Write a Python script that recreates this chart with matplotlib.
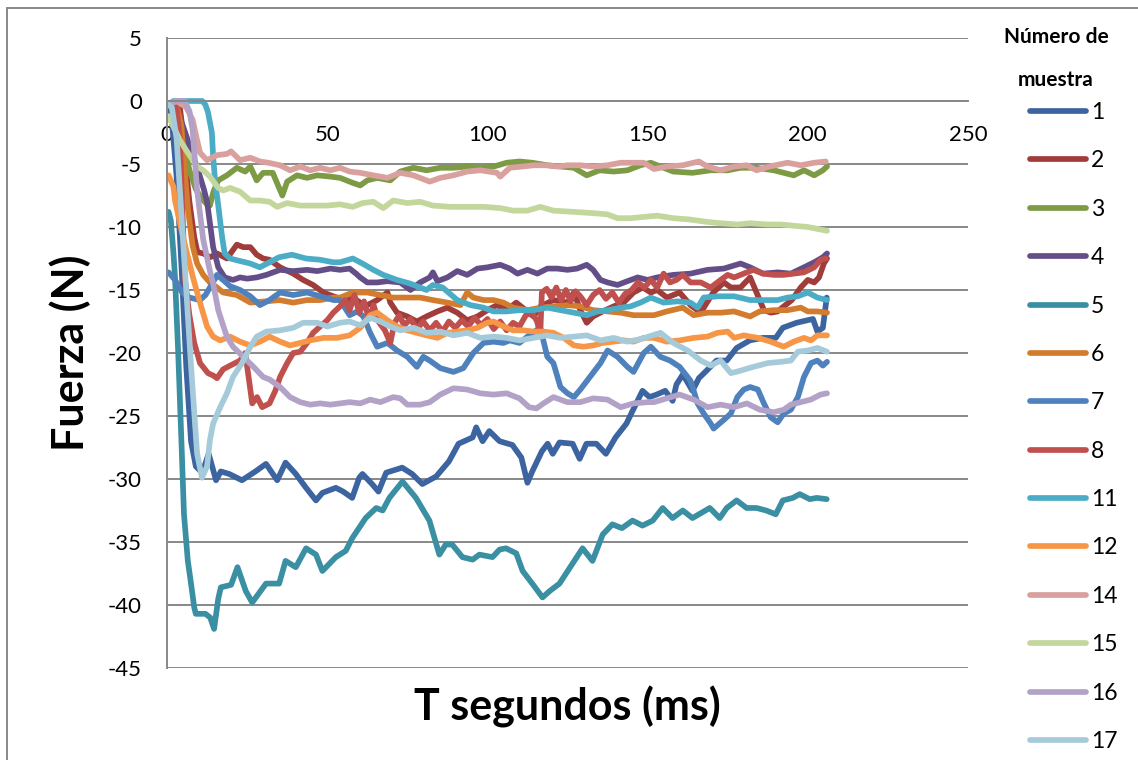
import matplotlib
matplotlib.use('Agg')
import matplotlib.pyplot as plt
from matplotlib.patches import Rectangle

plt.rcParams['font.family'] = ['Lato', 'DejaVu Sans']
plt.rcParams['axes.unicode_minus'] = False

# series: time (ms) and force (N)
t1 = [0.5, 1.5, 3, 4.5, 6, 7.5, 9, 11, 13, 15.3, 16.8, 19.4, 23.4, 27.6, 30.9, 34.4, 37, 40.2, 43.4, 46.5,
      48.5, 52.7, 55, 57.8, 60, 61, 64, 66, 68.4, 73.4, 76.5, 79.7, 84, 88, 91, 95.4, 96.5, 98.5, 100.6, 103.8,
      107.8, 110.6, 112.5, 114, 117, 118.8, 120.4, 122.5, 126.6, 128.8, 130.9, 134, 137, 140, 143.4, 145.3,
      148.4, 150.6, 152.8, 155.5, 157.8, 159, 161, 164, 166, 168.4, 171.5, 174.7, 177.8, 181.9, 186, 190,
      192.2, 196.5, 201.6, 203, 204.7, 205.9]
f1 = [-0.5, -1.5, -6, -13, -21, -27, -29, -29.5, -28, -30.1, -29.4, -29.6, -30.1, -29.4, -28.8, -30.1, -28.7,
      -29.6, -30.7, -31.7, -31.1, -30.7, -31.0, -31.5, -29.9, -29.6, -30.4, -31, -29.5, -29.1, -29.6, -30.4,
      -29.8, -28.6, -27.2, -26.7, -25.9, -27, -26.2, -27, -27.3, -28.3, -30.3, -29.4, -27.8, -27.2, -28, -27.1,
      -27.2, -28.4, -27.2, -27.2, -28, -26.7, -25.6, -24.6, -23, -23.5, -23.3, -23.0, -23.8, -22.5, -21.7, -23,
      -22, -21.4, -20.6, -20.6, -19.6, -19, -18.8, -18.8, -18, -17.6, -17.3, -18.3, -18.0, -15.6]

t2 = [0.5, 4, 5, 6, 7, 8.5, 9.5, 11.3, 13.5, 15.6, 18.7, 21.8, 23.8, 26, 28, 30, 32, 35.3, 39.4, 42.5, 45.6,
      48.8, 53, 56.3, 58, 60.3, 62.5, 65.6, 68.8, 69.7, 71.8, 75, 78, 81, 84.4, 87.5, 90.6, 93.7, 96.9, 100,
      103, 106, 109, 112.5, 114.4, 116.6, 120.6, 125, 127, 129, 131, 133, 136, 139.4, 142.5, 145.6, 148.5,
      151, 153, 156, 160, 163.4, 166.6, 168.5, 170.5, 173.8, 176, 179, 182, 184, 186.3, 188.5, 190.6, 192.5,
      195, 197.8, 200, 202, 203.5, 205, 206]
f2 = [-0.3, -0.5, -2.5, -5.5, -8, -10.8, -12, -12.1, -12.4, -12.1, -12.5, -11.4, -11.6, -11.6, -12.2, -12.5,
      -12.6, -13.2, -13.7, -14.2, -14.6, -15.2, -15.6, -15.8, -15.6, -16.0, -16.2, -15.8, -15.2, -16, -16.8,
      -17.1, -17.5, -17.1, -16.7, -16.4, -16.8, -17.4, -17.1, -16.6, -16.2, -16.6, -16, -16.7, -17.1, -16.3,
      -15.8, -16, -15.2, -16.6, -17.6, -17.1, -16.7, -16.3, -16, -15.2, -14.8, -15.2, -15.0, -15.6, -15.2,
      -16.2, -16.8, -16.0, -15.2, -14.4, -14.8, -14.8, -14, -15.2, -16.6, -16.8, -16.7, -16.3, -15.8, -14.8,
      -14.2, -14.4, -14, -12.9, -12.5]

t3 = [0.5, 3, 5, 7, 9, 11, 12.5, 13.4, 14.5, 16, 18.7, 21.8, 24.4, 26, 28, 30, 33, 36, 37.5, 40.6, 43.7,
      46.9, 51, 54, 58, 60.3, 62.5, 65.6, 69.7, 72.8, 76.9, 81, 85.3, 89.4, 93.7, 97.8, 102, 106, 110, 114,
      118.7, 122.8, 127, 131, 135, 139.4, 143.7, 147.8, 151, 154, 158, 164, 169.7, 175, 179, 184, 189.4,
      192.5, 195.6, 198.8, 202, 204.7, 206]
f3 = [-0.3, -1, -3, -5.5, -7, -7.8, -8.2, -8.3, -7.2, -6.3, -5.9, -5.3, -5.6, -5.2, -6.3, -5.7, -5.7, -7.5,
      -6.4, -5.9, -6.1, -5.9, -6, -6.1, -6.5, -6.7, -6.3, -6.1, -6.3, -5.6, -5.3, -5.5, -5.3, -5.3, -5.2, -5.3,
      -5.2, -4.9, -4.8, -4.9, -5.1, -5.2, -5.3, -5.9, -5.5, -5.6, -5.5, -5.1, -4.9, -5.2, -5.6, -5.7, -5.5,
      -5.5, -5.3, -5.3, -5.5, -5.7, -5.9, -5.5, -5.9, -5.5, -5.2]

t4 = [0.5, 3, 5, 7, 9, 10.3, 11.5, 12.5, 13.4, 14.4, 16, 18, 20.6, 22.8, 25, 28, 31, 35.3, 39.4, 43.7, 46.9,
      51, 54, 57, 59, 60.3, 62.5, 65.6, 68.8, 72.8, 76, 79, 82, 83, 84.4, 87.5, 90.6, 93.7, 96.9, 100, 104,
      107, 109.4, 112.5, 115.6, 118.7, 121.8, 125, 128, 131, 133, 135.3, 137.5, 140.6, 143.7, 146.9, 150,
      153, 158, 163.4, 168.7, 173.8, 179, 182, 186, 190.6, 194.7, 198.8, 202, 204.7, 206]
f4 = [-0.3, -0.7, -2, -3.5, -5, -6, -7, -8, -9.7, -11.6, -13.2, -14, -14.2, -14, -14.1, -14, -13.8, -13.4,
      -13.5, -13.4, -13.5, -13.3, -13.4, -13.3, -13.7, -14, -14.4, -14.4, -14.3, -14.4, -15, -14.4, -14,
      -13.6, -14.3, -14, -13.5, -13.8, -13.3, -13.2, -13, -13.3, -13.7, -13.4, -13.7, -13.3, -13.3, -13.4,
      -13.3, -13, -13.4, -14.2, -14.4, -14.6, -14.3, -14, -14.2, -14.0, -13.8, -13.7, -13.4, -13.3, -12.9,
      -13.2, -13.7, -13.6, -13.7, -13.2, -12.8, -12.4, -12.1]

t5 = [0.5, 1.2, 2, 2.5, 3.5, 4.5, 5.3, 6.5, 7.5, 8.5, 9, 12, 13.5, 14.7, 16, 16.8, 20, 22, 24.6, 26.6, 30.9,
      35, 37, 40.2, 43.4, 46.5, 48.5, 52.7, 55.8, 57.8, 62, 65.3, 67.3, 69.4, 73.5, 77.7, 81.9, 85, 87, 89,
      92.2, 95.4, 97.5, 101.6, 103.8, 105.8, 109, 111, 114, 117.2, 119.4, 122.5, 126.6, 129.7, 132.8, 136,
      139, 142, 145.3, 148.4, 151.6, 154.7, 157.8, 161, 164, 169.4, 172.5, 174.7, 177.8, 180.9, 184, 187,
      190, 192.2, 195.3, 197.5, 200.6, 202.8, 205.9]
f5 = [-8.8, -9.5, -12, -14, -20, -27, -32.8, -36.5, -38.3, -40.2, -40.7, -40.7, -41, -41.9, -39.5, -38.6,
      -38.4, -37, -38.9, -39.8, -38.3, -38.3, -36.5, -37, -35.5, -36, -37.3, -36.2, -35.7, -34.7, -33.1,
      -32.3, -32.5, -31.5, -30.2, -31.5, -33.3, -36, -35.2, -35.2, -36.2, -36.4, -36, -36.2, -35.6, -35.5,
      -35.9, -37.3, -38.3, -39.4, -38.9, -38.3, -36.7, -35.5, -36.5, -34.4, -33.6, -33.9, -33.3, -33.7,
      -33.3, -32.3, -33.1, -32.5, -33.1, -32.3, -33.1, -32.3, -31.7, -32.3, -32.3, -32.5, -32.8, -31.7,
      -31.5, -31.2, -31.6, -31.5, -31.6]

t6 = [0.5, 3, 4.5, 5.5, 6.5, 8, 9.4, 11.3, 13.4, 15.6, 17.5, 21.8, 26, 31, 35, 39.4, 43.7, 47.8, 52, 54, 58,
      62.5, 66.6, 70.6, 75, 79, 83, 87.5, 91.6, 93.7, 95.6, 98.8, 101.9, 105, 108, 112.5, 116.6, 120.6, 125,
      129, 133, 137.5, 141.6, 145.6, 150, 152, 156, 161, 164.4, 168.7, 172.8, 177, 182, 185, 189.4, 193.7,
      197.8, 200, 203, 206]
f6 = [-0.3, -0.3, -2, -5.5, -8.5, -11.5, -12.9, -13.8, -14.4, -14.8, -15.2, -15.4, -16, -15.9, -15.8, -16,
      -15.8, -15.8, -15.6, -15.6, -15.2, -15.2, -15.4, -15.6, -15.6, -15.6, -15.8, -16, -16.2, -15.2, -15.6,
      -15.8, -15.8, -16, -16.4, -16.6, -16.4, -16.3, -16.2, -16.3, -16.6, -16.7, -16.8, -17, -17, -17, -16.7,
      -16.4, -17, -16.8, -16.8, -16.7, -17.1, -16.7, -16.6, -16.6, -16.4, -16.7, -16.7, -16.8]

t7 = [0.5, 2.5, 4.7, 7, 10.3, 12, 13.4, 15, 15.6, 17.5, 19.7, 22.8, 26, 29, 32, 35.3, 39.4, 43.7, 47.8, 52,
      54, 57, 59.4, 61.3, 63.4, 65.6, 68.8, 71.8, 75, 78, 80, 82, 85.3, 89.4, 92.5, 95.6, 98.8, 101.9, 105,
      107, 110, 113, 115.3, 116.5, 118.7, 120.6, 122.8, 125, 127, 129, 132, 135.3, 137.5, 140.6, 143.7,
      145.6, 148.8, 151, 154, 157, 160, 163.4, 165.6, 167.5, 169.7, 170.6, 173.8, 176, 178, 180, 182, 184.4,
      186.3, 188.4, 190.6, 192.5, 194.7, 196.9, 198.8, 201, 203, 204.7, 206]
f7 = [-13.6, -14.2, -15.2, -15.6, -15.8, -15.4, -14.8, -14.1, -13.8, -14.2, -14.7, -15, -15.5, -16.2, -15.8,
      -15.2, -15.4, -15.2, -15.5, -15.8, -15.8, -17, -16.7, -17.1, -18.4, -19.5, -19.2, -19.8, -20.3, -21.1,
      -20.3, -20.6, -21.2, -21.5, -21.2, -20, -19.2, -19.1, -19.2, -19, -19.2, -18.6, -18.2, -18.0, -20.3,
      -20.8, -22.7, -23.2, -23.5, -22.9, -21.9, -20.8, -19.8, -20.3, -21.1, -21.5, -20, -19.5, -20.3, -20.6,
      -21.1, -22.2, -24, -24.8, -25.6, -26, -25.3, -24.8, -23.5, -22.9, -22.7, -22.9, -24, -25.1, -25.5,
      -24.8, -24.5, -23.5, -21.9, -20.8, -20.6, -21, -20.7]

t8 = [0.5, 3, 4, 5, 5.6, 7, 8.5, 10.3, 12.8, 14.5, 15.6, 17.5, 19.7, 22.8, 24.4, 25.3, 26.6, 28.1, 29.7, 32,
      33.8, 35.3, 37.5, 39.4, 41.6, 43.7, 45.6, 47.8, 50, 51.9, 54, 55.6, 57, 58.5, 60, 61.5, 63, 64.5, 66,
      68, 69.7, 71, 72.5, 74, 76, 78, 80, 82, 84, 86, 88, 90, 92, 94, 96, 98, 100, 102, 104, 106, 108, 110,
      112, 114, 115.5, 116.5, 117, 118.5, 120, 121.5, 123, 124.5, 126, 127.5, 129, 131, 133, 135, 137, 139,
      141, 143, 145, 147, 149, 151, 153, 155, 157, 159, 161, 163.4, 166.6, 169.7, 172.8, 175, 177, 180, 183,
      186, 189.4, 192.5, 195.6, 198.8, 202, 204, 205.6]
f8 = [-0.3, -0.5, -3, -10, -14.2, -17, -19.2, -20.8, -21.6, -21.8, -22, -21.3, -21, -20.6, -20, -21.6, -24,
      -23.5, -24.3, -24, -23, -21.9, -20.8, -20, -19.9, -19.2, -18.4, -17.9, -17.4, -16.8, -16.3, -15.8,
      -16.6, -15.4, -16.8, -15.9, -17.3, -16.2, -17.5, -18.2, -19.2, -17.6, -17.0, -17.8, -17.3, -18.1,
      -17.5, -18.2, -17.6, -18.3, -17.5, -18.0, -17.4, -17.9, -17.2, -17.8, -17.3, -18.1, -17.5, -18.2,
      -17.6, -17.9, -17.0, -16.8, -17.5, -18.5, -15.2, -14.9, -15.6, -14.8, -15.8, -15.0, -15.9, -15.1,
      -15.5, -16.2, -15.4, -15.0, -15.7, -15.2, -16.0, -15.3, -15.0, -14.4, -14.8, -14.2, -14.8, -13.7,
      -14.4, -14.2, -13.8, -14.4, -14.4, -14.8, -14.2, -13.8, -14, -13.7, -13.4, -13.7, -13.8, -13.8, -13.7,
      -13.6, -13.2, -12.6, -12.5]

t11 = [0.5, 2, 5, 8, 11, 12, 12.8, 14, 14.4, 15, 16, 17.2, 18, 19.7, 22.8, 26, 29, 32, 35, 39, 43.4, 47.8,
       51.9, 54, 58, 61, 64.4, 67.5, 71.8, 76, 79, 81, 83, 86, 90.6, 94.7, 98.8, 101.9, 106, 110, 114.5,
       118.7, 122.8, 127, 131, 134.4, 137.5, 141.6, 144.7, 147.8, 151, 155, 159.4, 163.4, 165.6, 167.5,
       171.9, 177, 182, 186, 190.6, 193.7, 196.9, 200, 203, 206]
f11 = [-0.3, 0, 0, 0, 0, -0.3, -0.9, -2.5, -4.4, -6.3, -8.3, -10.8, -12.1, -12.5, -12.7, -12.9, -13.2,
       -12.8, -12.4, -12.2, -12.5, -12.6, -12.8, -12.8, -12.5, -12.9, -13.4, -13.8, -14.2, -14.5, -14.8, -15,
       -14.6, -14.8, -15.8, -16.2, -16.4, -16.7, -16.7, -16.6, -16.6, -16.4, -16.6, -16.8, -17, -16.7,
       -16.6, -16.4, -16.3, -16, -15.6, -16, -15.9, -16, -16.4, -15.6, -15.5, -15.5, -15.8, -15.8, -15.8,
       -15.6, -15.5, -15.2, -15.6, -15.8]

t12 = [0.5, 2, 2.5, 5, 8.1, 10.3, 12.5, 14.4, 16.6, 19.7, 22.8, 26, 29, 32, 35.3, 38.4, 41.6, 44.7, 48.8,
       53, 57, 60.3, 63.4, 65.6, 68.8, 71.8, 75, 78, 81, 84.4, 87.5, 90.6, 93.7, 96.9, 100, 101.9, 105, 108,
       111.3, 114.4, 117.5, 120.6, 123.8, 127, 130, 133, 136, 139.4, 142.5, 145.6, 148.8, 152, 156, 160,
       164.4, 168.7, 171.8, 175, 177, 180, 184.4, 188.4, 192.5, 195.6, 198.8, 201, 203, 206]
f12 = [-5.9, -6.8, -7.9, -10.8, -14, -16, -17.9, -18.7, -19, -18.7, -19.1, -19.4, -19.1, -18.7, -19.1,
       -19.4, -19.2, -19, -18.8, -18.8, -18.6, -18.0, -17, -16.8, -17.4, -17.9, -18.2, -18.4, -18.6, -18.8,
       -18.4, -18.3, -18.2, -18, -17.6, -17.5, -17.9, -18.2, -18.2, -18.3, -18.3, -18.4, -18.8, -19.4, -19.5,
       -19.4, -19.2, -19.1, -19, -19.1, -18.8, -18.8, -19.1, -19, -18.8, -18.7, -18.4, -18.3, -18.8, -18.6,
       -18.8, -19.1, -19.5, -19.1, -18.8, -19, -18.6, -18.6]

t14 = [0.5, 3, 6, 8, 9.3, 10.3, 12.5, 15.6, 18.7, 20, 22.8, 26, 29, 31.6, 35.3, 38.4, 41.6, 44.7, 47.8, 51,
       54, 57, 60.3, 64.4, 68.8, 72.8, 76.9, 82, 85.3, 89.4, 93.7, 97.8, 103, 104, 107, 111, 114.5, 118.7,
       121.8, 125, 129, 133, 137.5, 141.6, 145.6, 148.8, 152, 156, 161, 166, 168.7, 172.8, 177, 181, 184,
       188, 193.7, 197.8, 202, 205.6]
f14 = [-0.3, 0, -0.5, -1.5, -3, -4.1, -4.7, -4.3, -4.2, -4.0, -4.7, -4.5, -4.8, -4.9, -5.1, -5.5, -5.2,
       -5.5, -5.3, -5.5, -5.3, -5.6, -5.7, -5.9, -6.1, -5.7, -5.9, -6.4, -6.1, -5.9, -5.6, -5.5, -5.7, -6,
       -5.3, -5.2, -5.1, -5.1, -5.2, -5.1, -5.1, -5.2, -5.1, -4.9, -4.9, -4.9, -5.4, -5.2, -5.1, -4.8, -5.2,
       -5.5, -5.2, -5.1, -5.5, -5.2, -4.9, -5.1, -4.9, -4.8]

t15 = [0.5, 1, 4, 6.2, 9.4, 11.3, 13.4, 16, 17.5, 19.7, 22.8, 26, 29, 32, 34.4, 37.5, 41.6, 45.6, 50, 54,
       58, 61, 64.4, 67.5, 70.6, 75, 79, 83, 88.4, 93.7, 98.8, 104, 108, 112.5, 116.5, 120.6, 127, 133,
       137.5, 140.6, 144.7, 148.8, 153, 158, 163, 168.7, 172.8, 178, 182, 187.5, 191.6, 195.6, 200, 204, 206]
f15 = [-1.2, -1.5, -3.1, -4, -5.2, -5.5, -6, -6.9, -7.1, -6.9, -7.2, -7.9, -7.9, -8, -8.4, -8.1, -8.3, -8.3,
       -8.3, -8.2, -8.4, -8.1, -8, -8.5, -7.9, -8.1, -8, -8.3, -8.4, -8.4, -8.4, -8.5, -8.7, -8.7, -8.4,
       -8.7, -8.8, -8.9, -9, -9.3, -9.3, -9.2, -9.1, -9.3, -9.4, -9.6, -9.7, -9.8, -9.7, -9.8, -9.8, -9.9,
       -10, -10.2, -10.3]

t16 = [0.5, 3, 5.5, 7, 8, 9.4, 11.3, 13.4, 14.4, 16, 17.5, 18.7, 20.6, 23.8, 27, 30, 32, 35.3, 38.4, 41.6,
       44.7, 47.8, 51, 54, 57, 60.3, 63.4, 66.6, 70.6, 72.8, 75, 79, 82, 85.3, 89.4, 93.7, 97.8, 101.9, 106,
       110, 113, 115.3, 117.5, 120.6, 125, 129, 133, 137.5, 141.6, 145.6, 150, 152, 156, 160, 164.4, 168.7,
       172.8, 177, 181, 185, 189.4, 192.5, 194.7, 197.8, 200.9, 204, 206]
f16 = [-0.2, 0, 0, -0.8, -2.3, -7.1, -11, -13.5, -14.5, -16.6, -17.8, -18.7, -19.5, -20.3, -21.1, -21.9,
       -22.1, -22.7, -23.5, -23.9, -24.1, -24, -24.1, -24, -23.9, -24, -23.7, -23.9, -23.5, -23.6, -24.1,
       -24.1, -23.9, -23.3, -22.8, -22.9, -23.2, -23.3, -23.2, -23.6, -24.3, -24.4, -24, -23.5, -23.9, -23.9,
       -23.6, -23.7, -24.3, -24, -23.9, -23.9, -23.6, -23.3, -23.7, -24.3, -24.1, -24.3, -24, -24.5, -24.7,
       -24.5, -24.1, -23.9, -23.7, -23.3, -23.2]

t17 = [0.5, 1.5, 3, 4.5, 6, 7.5, 9.4, 10.9, 12.5, 13.4, 14.4, 16.6, 18.7, 20.6, 23.4, 26, 28, 31, 35.3, 39.4,
       42.5, 46.9, 50, 54, 57, 60.3, 63.4, 66.6, 69.7, 72.8, 77, 81, 85.3, 89.4, 93.7, 97.8, 101.9, 106, 110,
       114.4, 118.7, 122.8, 127, 131, 135.3, 139.4, 143.7, 147.8, 154, 158, 162.5, 166.6, 169.7, 172.8, 176,
       179, 183, 187.5, 191.6, 194.7, 196.9, 200, 203, 206]
f17 = [-0.3, -0.5, -3, -9, -15, -21, -28, -29.9, -29, -26.9, -25.6, -24.3, -23.2, -21.9, -20.8, -19.5, -18.7,
       -18.3, -18.2, -18, -17.6, -17.6, -17.9, -17.6, -17.5, -17.8, -17.2, -17.5, -17.9, -18.2, -18, -18.4,
       -18.3, -18.6, -18.4, -18.8, -18.7, -18.8, -19, -18.8, -18.6, -18.8, -18.7, -18.6, -19, -18.8, -19.1,
       -18.9, -18.4, -19.2, -19.8, -20.6, -21, -20.6, -21.6, -21.4, -21.1, -20.8, -20.7, -20.6, -19.9, -19.8,
       -19.6, -19.9]

labels = ['1', '2', '3', '4', '5', '6', '7', '8', '11', '12', '14', '15', '16', '17']
colors = ['#3C64A0', '#A03C3A', '#7D9A45', '#644E88', '#3A8FA3', '#D47C2E', '#4F81BD',
          '#C0504D', '#4BACC6', '#F79646', '#D9A09E', '#C3D69B', '#B3A2C7', '#A5CBDB']
series = [(t1, f1), (t2, f2), (t3, f3), (t4, f4), (t5, f5), (t6, f6), (t7, f7),
          (t8, f8), (t11, f11), (t12, f12), (t14, f14), (t15, f15), (t16, f16), (t17, f17)]

grid_c = '#888888'

fig = plt.figure(figsize=(11.38, 7.6), dpi=100)
ax = fig.add_axes([167 / 1138, 92 / 760, 801 / 1138, 630 / 760])

handles = []
for (t, f), lab, c in zip(series, labels, colors):
    ln, = ax.plot(t, f, color=c, linewidth=4.1, label=lab,
                  solid_joinstyle='round', solid_capstyle='round')
    handles.append(ln)

ax.set_xlim(0, 250)
ax.set_ylim(-45, 5)
ax.set_xticks(range(0, 251, 50))
ax.set_yticks(range(-45, 6, 5))
ax.yaxis.grid(True, color=grid_c, linewidth=1.4)
ax.set_axisbelow(True)

ax.spines['top'].set_visible(False)
ax.spines['right'].set_visible(False)
ax.spines['bottom'].set_position(('data', 0))
ax.spines['bottom'].set_color(grid_c)
ax.spines['bottom'].set_linewidth(1.4)
ax.spines['left'].set_color(grid_c)
ax.spines['left'].set_linewidth(1.4)
ax.tick_params(axis='x', length=0, pad=17, labelsize=16)
ax.tick_params(axis='y', length=0, pad=18, labelsize=16)

ax.set_xlabel('T segundos (ms)', fontsize=31, fontweight='bold', va='center')
ax.xaxis.set_label_coords(0.5, -0.062)
ax.set_ylabel('Fuerza (N)', fontsize=31, fontweight='bold', va='center')
ax.yaxis.set_label_coords(-0.121, 0.50)

# legend: title as two separate lines, entries below
fig.text(1056 / 1138, 1 - 37 / 760, 'Número de', fontsize=15, fontweight='bold',
         ha='center', va='center')
fig.text(1056 / 1138, 1 - 80 / 760, 'muestra', fontsize=15, fontweight='bold',
         ha='center', va='center')
leg = fig.legend(handles=handles, loc='upper left', bbox_to_anchor=(1030 / 1138, 1 - 102 / 760),
                 frameon=False, fontsize=16.5, borderpad=0, borderaxespad=0,
                 handlelength=2.45, handletextpad=0.2, labelspacing=1.195)

# outer chart border
fig.patches.append(Rectangle((7 / 1138, -0.2), 2, 1.2 - 8 / 760, transform=fig.transFigure,
                             fill=False, edgecolor=grid_c, linewidth=1.4))

fig.savefig('out.png', dpi=100)
